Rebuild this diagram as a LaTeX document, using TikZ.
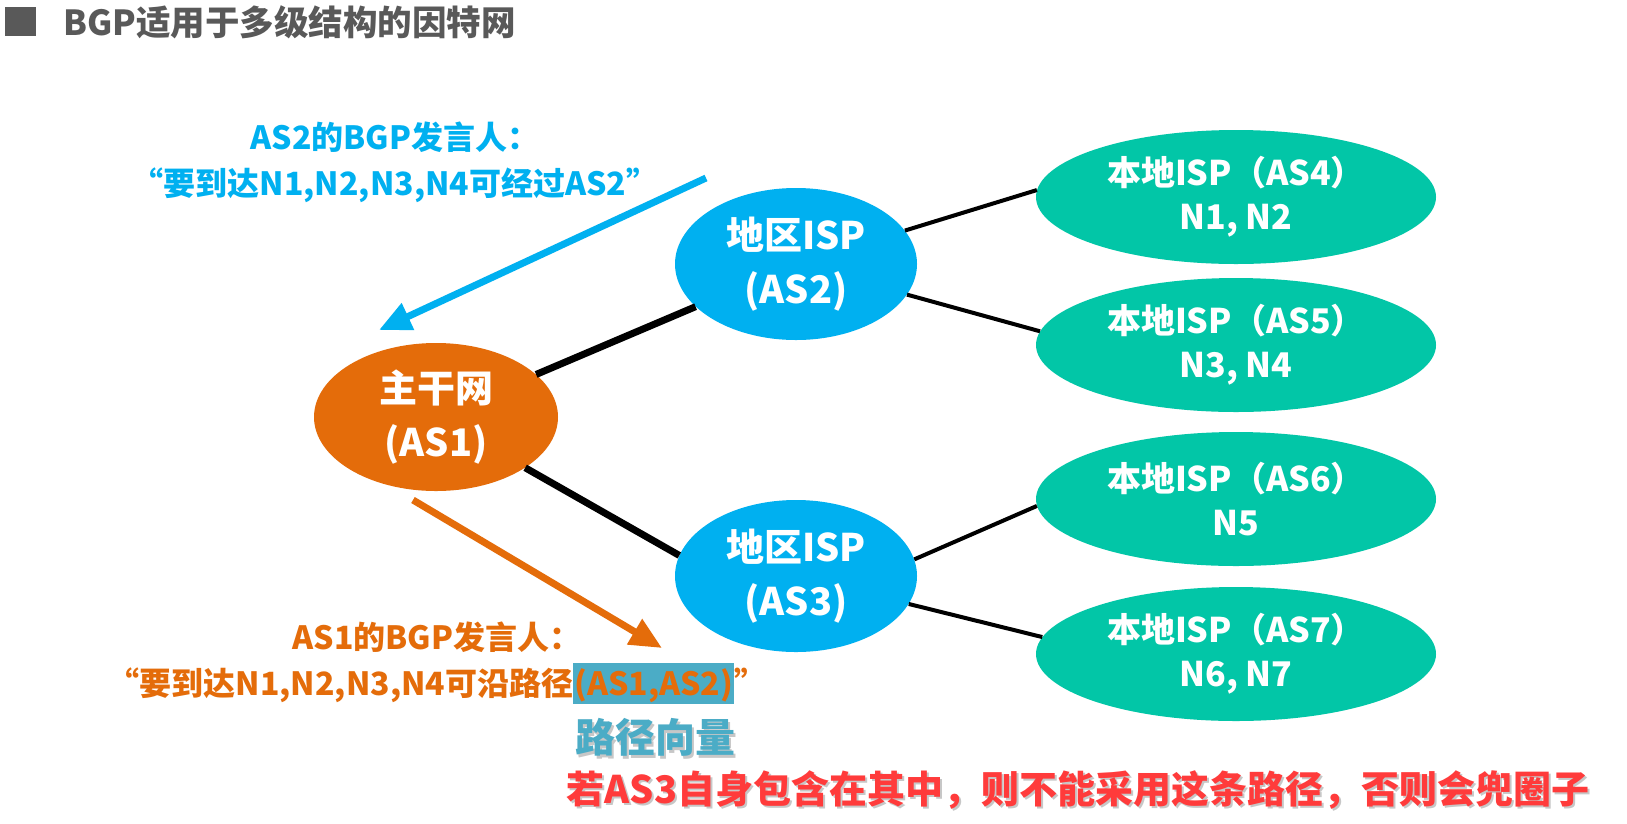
\documentclass[tikz,border=0pt]{standalone}
\usepackage{fontspec}
\setmainfont{Noto Sans CJK SC}
\usetikzlibrary{shapes.geometric,arrows.meta}
\definecolor{tgray}{HTML}{595959}
\definecolor{cblue}{HTML}{00B0F0}
\definecolor{corange}{HTML}{E46C0A}
\definecolor{cteal}{HTML}{02C6A7}
\definecolor{hlc}{HTML}{4BACC6}
\definecolor{cred}{HTML}{FF3B3B}
\newcommand\hlbox[1]{{\setlength\fboxsep{0pt}\colorbox{hlc}{\rule[-8pt]{0pt}{41pt}\hspace{1pt}#1\hspace{1pt}}}}
\newcommand\shadowtext[1]{\rlap{\hspace{2pt}\raisebox{-2.5pt}{\color{black!22}#1}}#1}
\begin{document}
\begin{tikzpicture}[x=1pt,y=-1pt,
  bignode/.style={ellipse, inner sep=0pt, text=white, align=center,
    font=\bfseries\fontsize{38}{54}\selectfont},
  backbone/.style={bignode, fill=corange, minimum width=244pt, minimum height=148pt},
  region/.style={bignode, fill=cblue, minimum width=242pt, minimum height=152pt},
  localisp/.style={ellipse, inner sep=0pt, text=white, align=center, fill=cteal,
    minimum width=400pt, minimum height=134pt,
    font=\bfseries\fontsize{34}{44}\selectfont},
  thickline/.style={line width=7pt, black},
  thinline/.style={line width=4pt, black},
  msgarrow/.style={line width=7pt, -{Triangle[length=32pt,width=28pt]}},
  note/.style={align=center, font=\bfseries\fontsize{32}{46}\selectfont}
]
\useasboundingbox (0,0) rectangle (1627,823);
\fill[white] (0,0) rectangle (1627,823);

% title
\node[fill=tgray, minimum width=31pt, minimum height=29pt, inner sep=0pt] (bullet) at (20.5,21.5) {};
\node[anchor=west, text=tgray, inner sep=0pt, font=\bfseries\fontsize{34.5}{38}\selectfont] (title) at (63,22) {BGP适用于多级结构的因特网};

% nodes
\node[backbone] (as1) at (436,417) {主干网\\(AS1)};
\node[region] (as2) at (796,264) {地区ISP\\(AS2)};
\node[region] (as3) at (796,576) {地区ISP\\(AS3)};
\node[localisp] (as4) at (1236,197) {本地ISP（AS4）\\N1, N2};
\node[localisp] (as5) at (1236,345) {本地ISP（AS5）\\N3, N4};
\node[localisp] (as6) at (1236,499) {本地ISP（AS6）\\N5};
\node[localisp] (as7) at (1236,654) {本地ISP（AS7）\\N6, N7};

% links
\draw[thickline] (as1) -- (as2);
\draw[thickline] (as1) -- (as3.170);
\draw[thinline] (as2) -- (as4.178);
\draw[thinline] (as2) -- (as5.176);
\draw[thinline] (as3.8) -- (as6.182);
\draw[thinline] (as3) -- (as7.175);

% messages
\node[note, text=cblue] (msg2) at (395,162) {AS2的BGP发言人：\\“要到达N1,N2,N3,N4可经过AS2”};
\coordinate (b1) at (706,178);
\coordinate (b2) at (379,330);
\draw[msgarrow, cblue] (b1) -- (b2);

\coordinate (o1) at (413,500);
\coordinate (o2) at (662,648);
\draw[msgarrow, corange] (o1) -- (o2);
\node[note, text=corange] (msg1) at (437,663) {AS1的BGP发言人：\\“要到达N1,N2,N3,N4可沿路径\hlbox{(AS1,AS2)}”};

\node[text=hlc, inner sep=0pt, font=\bfseries\fontsize{40}{44}\selectfont] (pv) at (655,739) {\shadowtext{路径向量}};
\node[text=cred, inner sep=0pt, font=\bfseries\fontsize{38}{42}\selectfont] (warn) at (1078,791) {\shadowtext{若AS3自身包含在其中，则不能采用这条路径，否则会兜圈子}};
\end{tikzpicture}
\end{document}
